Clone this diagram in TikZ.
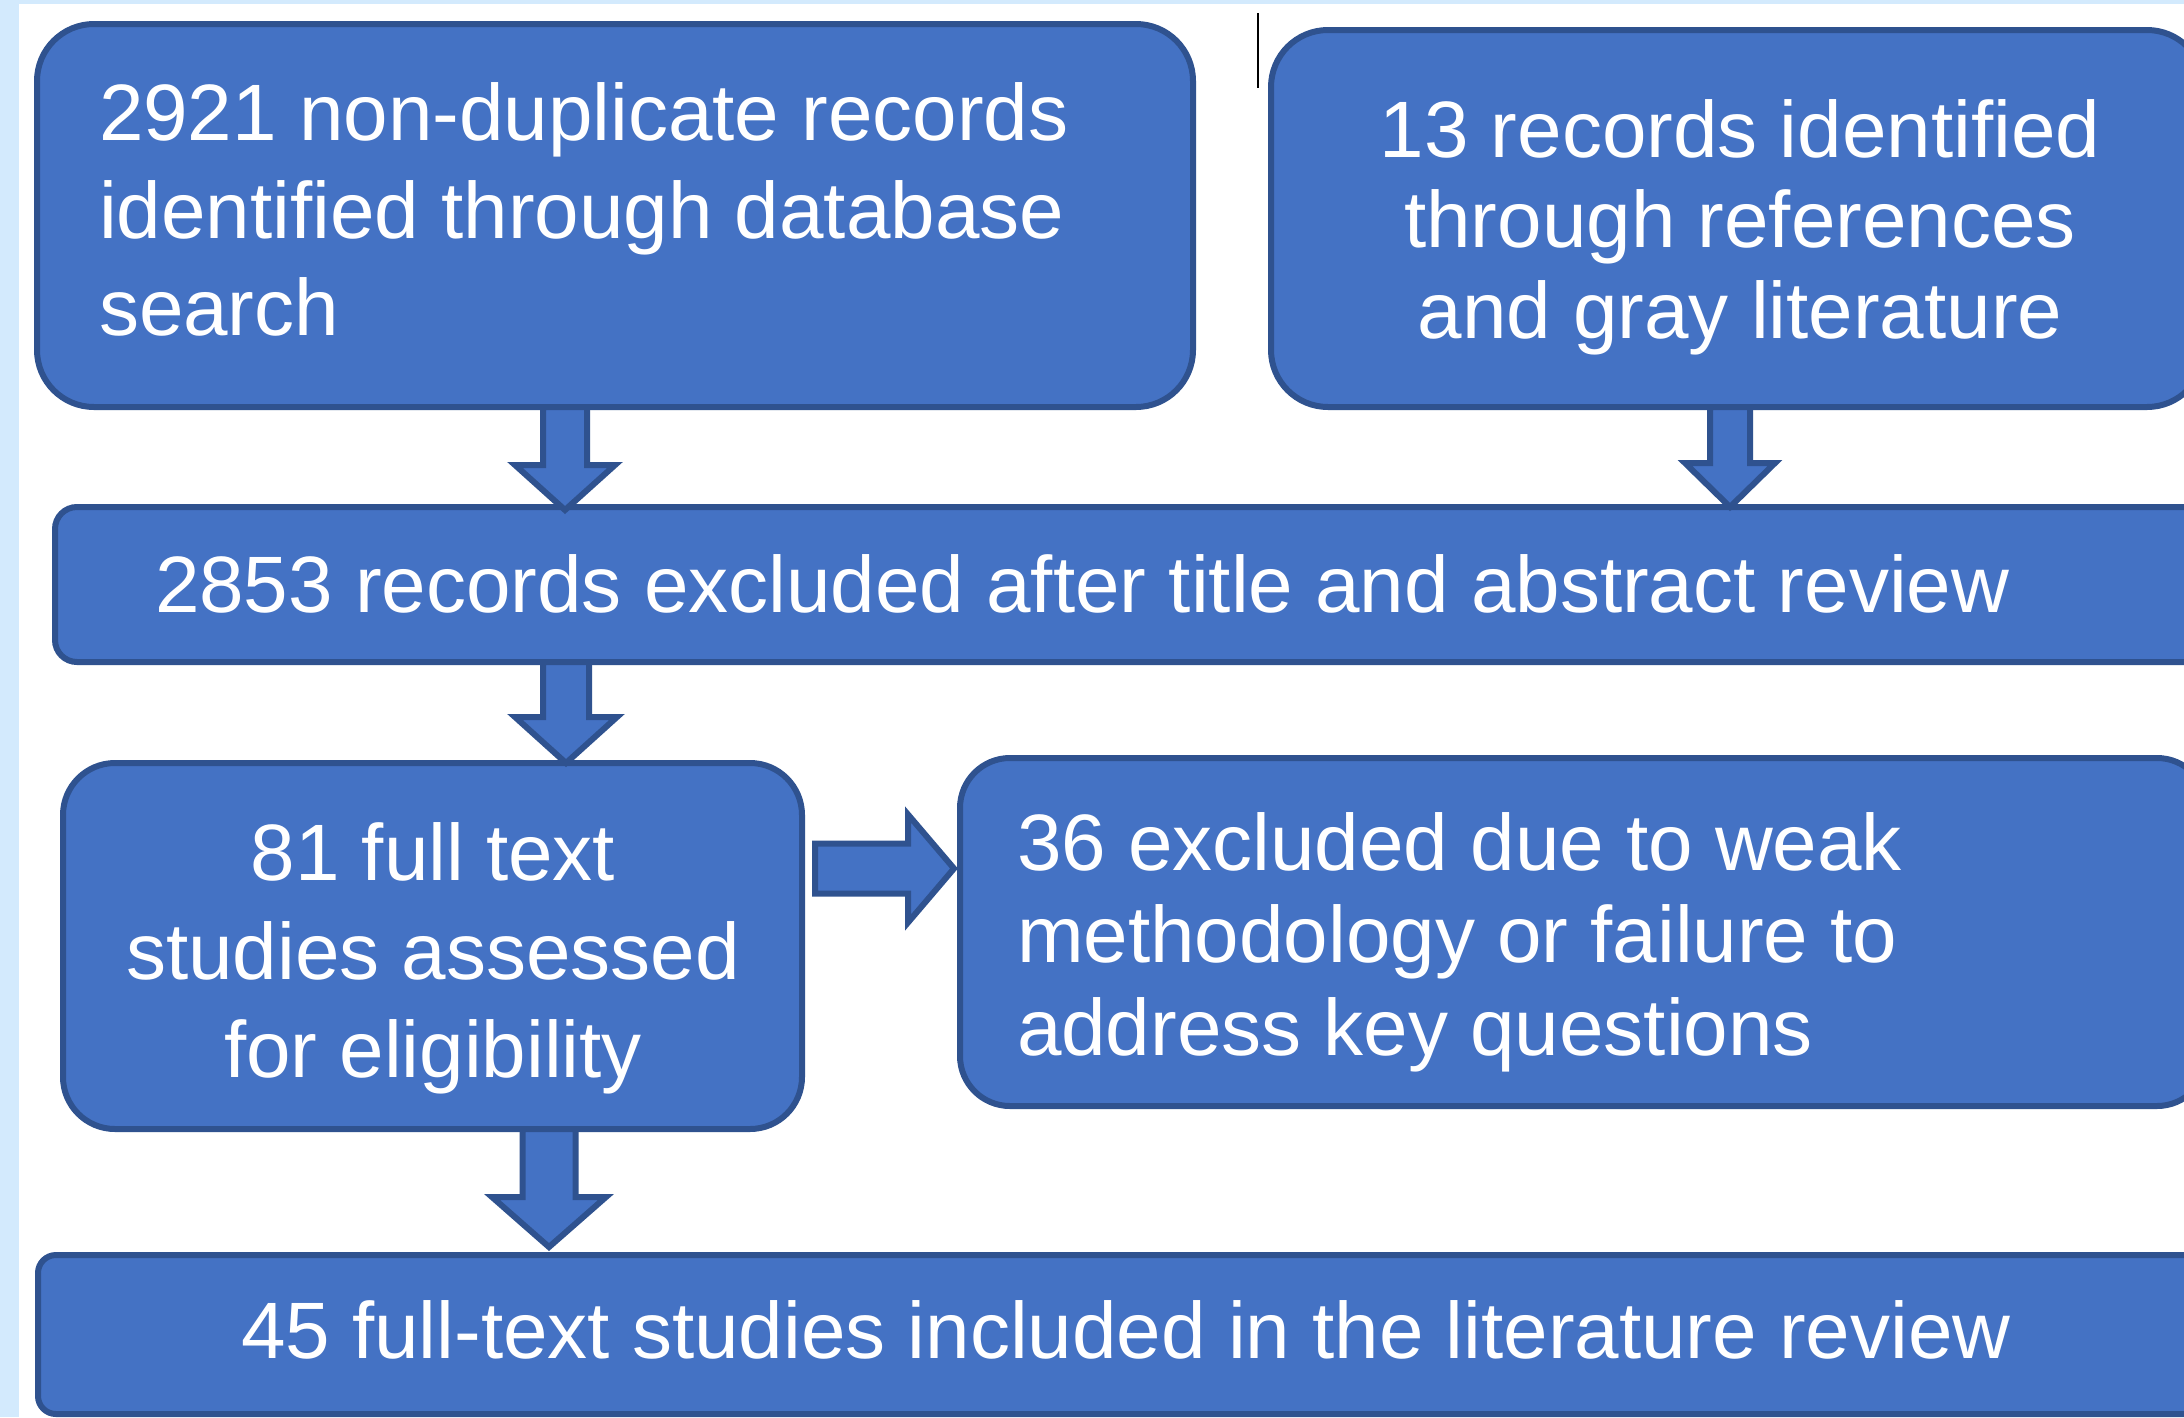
\documentclass[tikz,border=0pt]{standalone}
\usepackage{fontspec}
\setmainfont{Liberation Sans}[Ligatures=NoCommon]
\usetikzlibrary{calc}
\definecolor{boxfill}{HTML}{4472C4}
\definecolor{boxline}{HTML}{2F528F}
\definecolor{edgeblue}{HTML}{D3EAFD}
\tikzset{
  box/.style={draw=boxline, fill=boxfill, line width=6pt, inner sep=0pt, outer sep=0pt, rectangle},
  lbl/.style={text=white, font=\fontsize{80}{96}\selectfont, inner sep=0pt, outer sep=0pt},
  blockarrow/.style={draw=boxline, fill=boxfill, line width=6pt, line join=miter},
}
% down block arrow: start, end, shaft half width, head half width, head length
\newcommand{\blockdown}[5]{%
  \draw[blockarrow] let \p1=#1, \p2=#2 in
    (\x1-#3pt,\y1) -- (\x1-#3pt,\y2+#5pt) -- (\x1-#4pt,\y2+#5pt) -- (\x1,\y2)
    -- (\x1+#4pt,\y2+#5pt) -- (\x1+#3pt,\y2+#5pt) -- (\x1+#3pt,\y1) -- cycle;}
% right block arrow
\newcommand{\blockright}[5]{%
  \draw[blockarrow] let \p1=#1, \p2=#2 in
    (\x1,\y1+#3pt) -- (\x2-#5pt,\y1+#3pt) -- (\x2-#5pt,\y1+#4pt) -- (\x2,\y1)
    -- (\x2-#5pt,\y1-#4pt) -- (\x2-#5pt,\y1-#3pt) -- (\x1,\y1-#3pt) -- cycle;}
\begin{document}
\begin{tikzpicture}[x=1pt, y=-1pt]
\useasboundingbox (0,0) rectangle (2184,1417);
\clip (0,0) rectangle (2184,1417);
\fill[white] (0,0) rectangle (2184,1417);
\fill[edgeblue] (0,0) rectangle (19,1417);
\fill[edgeblue] (0,0) rectangle (2184,4);

% boxes
\node[box, rounded corners=57pt, minimum width=1156pt, minimum height=383pt] (b1) at (615,215.5) {};
\node[box, rounded corners=57pt, minimum width=933pt, minimum height=377pt] (b2) at (1737.5,218.5) {};
\node[box, rounded corners=22pt, minimum width=2157pt, minimum height=155pt] (b3) at (1133.5,584.5) {};
\node[box, rounded corners=52pt, minimum width=739pt, minimum height=366pt] (b4) at (432.5,946) {};
\node[box, rounded corners=50pt, minimum width=1247pt, minimum height=348pt] (b5) at (1583.5,932) {};
\node[box, rounded corners=18pt, minimum width=2174pt, minimum height=159pt] (b6) at (1125,1334.5) {};

% texts
\node[lbl, anchor=base west] (t1a) at (99,140) {2921 non-duplicate records};
\node[lbl, anchor=base west] (t1b) at (99,238) {identified through database};
\node[lbl, anchor=base west] (t1c) at (99,335) {search};

\node[lbl, anchor=base] (t2a) at (1740,157) {13 records identified};
\node[lbl, anchor=base] (t2b) at (1740,247) {through references};
\node[lbl, anchor=base] (t2c) at (1740,338) {and gray literature};

\node[lbl, anchor=base west] (t3) at (155,612) {2853 records excluded after title and abstract review};

\node[lbl, anchor=base] (t4a) at (433,880) {81 full text};
\node[lbl, anchor=base] (t4b) at (433,979) {studies assessed};
\node[lbl, anchor=base] (t4c) at (433,1077) {for eligibility};

\node[lbl, anchor=base west] (t5a) at (1017,870) {36 excluded due to weak};
\node[lbl, anchor=base west] (t5b) at (1017,962) {methodology or failure to};
\node[lbl, anchor=base west] (t5c) at (1017,1055) {address key questions};

\node[lbl, anchor=base west] (t6) at (241,1358) {45 full-text studies included in the literature review};

% arrow guide coordinates
\coordinate (ax1) at (565,0);
\coordinate (ax2) at (1730,0);
\coordinate (ax3) at (566,0);
\coordinate (ax5) at (549,0);
\coordinate (ay4) at (0,868.5);

% block arrows
\blockdown{(b1.south -| ax1)}{($(b3.north -| ax1)+(0,3)$)}{22}{50}{45}
\blockdown{(b2.south -| ax2)}{(b3.north -| ax2)}{20}{45}{44}
\blockdown{(b3.south -| ax3)}{(b4.north -| ax3)}{23}{51}{46}
\blockdown{(b4.south -| ax5)}{($(b6.north -| ax5)+(0,-8)$)}{26.5}{57}{50}
\blockright{($(b4.east |- ay4)+(13,0)$)}{($(b5.west |- ay4)+(-6,0)$)}{25}{54}{46}

% text cursor mark
\draw[line width=2.5pt] (1258,13) -- (1258,88);
\end{tikzpicture}
\end{document}
